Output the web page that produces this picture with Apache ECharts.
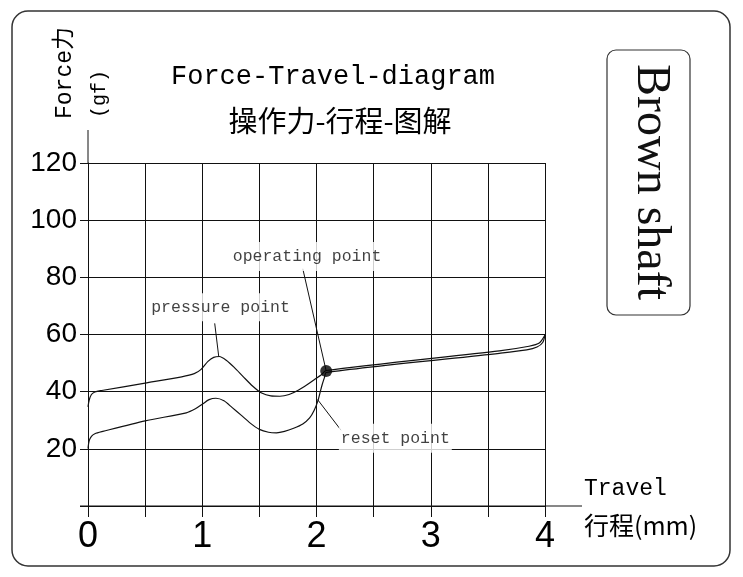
<!DOCTYPE html>
<html>
<head>
<meta charset="utf-8">
<script src="https://cdn.jsdelivr.net/npm/echarts@6/dist/echarts.min.js"></script>
<style>
html,body{margin:0;padding:0;background:#fff;}
#c{width:743px;height:577px;}
</style>
</head>
<body>
<div id="c"></div>
<script>
// ---- data ----
const titleEn = 'Force-Travel-diagram';
const titleZh = '操作力-行程-图解';
const shaftName = 'Brown shaft';
const yName1 = 'Force力';
const yName2 = '(gf)';
const xName1 = 'Travel';
const xName2 = '行程(mm)';

// pressing stroke (travel mm, force gf)
const pressTravel = [0, 0.01, 0.03, 0.06, 0.12, 0.5, 0.82, 0.93, 0.99, 1.05, 1.1, 1.15, 1.21, 1.28, 1.36, 1.44, 1.52, 1.6, 1.68, 1.76, 1.84, 1.92, 1.98, 2.04, 2.085, 3.6, 3.86, 3.95, 4.0];
const pressForce  = [34.7, 37, 39, 39.9, 40.4, 43.0, 45.2, 46.3, 47.8, 50.6, 52, 52.3, 51, 48.5, 45.2, 42, 39.5, 38.5, 38.4, 39, 40.5, 42.5, 44.2, 45.8, 47.4, 54.3, 55.9, 57.0, 59.8];

// return stroke
const returnTravel = [4.0, 3.98, 3.93, 3.84, 3.6, 2.085, 2.07, 2.05, 2.03, 2.01, 1.98, 1.94, 1.88, 1.8, 1.72, 1.65, 1.58, 1.5, 1.42, 1.34, 1.26, 1.19, 1.12, 1.06, 1.0, 0.94, 0.86, 0.5, 0.13, 0.06, 0.03, 0.01, 0];
const returnForce  = [59.8, 57.2, 55.6, 54.6, 53.4, 46.7, 45, 42.5, 39.5, 36.5, 33.5, 30.8, 28.7, 27.2, 26.1, 25.6, 25.8, 26.8, 29, 31.8, 34.5, 36.8, 37.7, 37.2, 35.6, 34, 32.6, 29.8, 26.1, 25.3, 24.4, 22.8, 20.1];

const operatingPoint = [2.085, 47.2];

const noteNames = ['pressure point', 'operating point', 'reset point'];
const noteTravel = [1.16, 1.917, 2.69];
const noteForce  = [69.5, 87.3, 23.7];
const leaderFromTravel = [1.109, 1.88, 2.215];
const leaderFromForce  = [63.9, 83.0, 26.5];
const leaderToTravel   = [1.144, 2.085, 2.01];
const leaderToForce    = [52.4, 47.2, 37.2];

const xTicks = [0, 1, 2, 3, 4];
const yTicks = [20, 40, 60, 80, 100, 120];

// ---- chart ----
const chart = echarts.init(document.getElementById('c'), null, {renderer: 'canvas'});
const zip = (a, b) => a.map((v, i) => [v, b[i]]);

const leaderSeries = noteNames.map((n, i) => ({
  type: 'line',
  data: [[leaderFromTravel[i], leaderFromForce[i]], [leaderToTravel[i], leaderToForce[i]]],
  symbol: 'none',
  lineStyle: {color: '#111', width: 1},
  silent: true,
  z: 3
}));

const labelPads = [[7, 2, 4, 2], [8, 2, 4, 2], [8, 2, 4, 2]];

const option = {
  animation: false,
  backgroundColor: '#fff',
  grid: {left: 88, right: 198, top: 163, bottom: 71, containLabel: false},
  xAxis: {
    type: 'value', min: 0, max: 4, interval: 0.5,
    axisLine: {show: true, lineStyle: {color: '#111', width: 1}},
    axisTick: {show: true, length: 11, lineStyle: {color: '#111', width: 1}},
    splitLine: {show: true, lineStyle: {color: '#111', width: 1}},
    axisLabel: {
      margin: 13, color: '#000', fontFamily: 'Liberation Sans', fontSize: 36,
      formatter: v => (xTicks.indexOf(v) >= 0 ? String(v) : '')
    }
  },
  yAxis: {
    type: 'value', min: 0, max: 120, interval: 20,
    axisLine: {show: true, lineStyle: {color: '#111', width: 1}},
    axisTick: {show: true, length: 8, lineStyle: {color: '#111', width: 1}},
    splitLine: {show: true, lineStyle: {color: '#111', width: 1}},
    axisLabel: {
      margin: 11, color: '#000', fontFamily: 'Liberation Sans', fontSize: 28,
      formatter: v => (yTicks.indexOf(v) >= 0 ? String(v) : '')
    }
  },
  series: [
    {
      type: 'line', name: 'press', data: zip(pressTravel, pressForce),
      smooth: 0.25, symbol: 'none',
      lineStyle: {color: '#111', width: 1.2}, z: 4
    },
    {
      type: 'line', name: 'return', data: zip(returnTravel, returnForce),
      smooth: 0.25, symbol: 'none',
      lineStyle: {color: '#111', width: 1.2}, z: 4
    },
    ...leaderSeries,
    {
      type: 'scatter', data: [operatingPoint], symbol: 'circle', symbolSize: 12,
      itemStyle: {color: '#000'}, z: 6
    },
    {
      type: 'scatter', symbolSize: 0, z: 7,
      data: noteNames.map((n, i) => ({
        name: n, value: [noteTravel[i], noteForce[i]],
        label: {padding: labelPads[i]}
      })),
      label: {
        show: true, position: 'inside', formatter: p => p.name,
        fontFamily: 'Liberation Mono', fontSize: 16.5, color: '#111',
        backgroundColor: '#fff'
      }
    }
  ],
  graphic: {
    elements: [
      {id: 'frame', type: 'rect', shape: {x: 12, y: 11, width: 718, height: 555, r: 16},
       style: {fill: 'none', stroke: '#333', lineWidth: 1.5}, z: 1},
      {id: 'shaftBox', type: 'rect', shape: {x: 607, y: 50, width: 83, height: 265, r: 9},
       style: {fill: '#fff', stroke: '#333', lineWidth: 1.2}, z: 1},
      {id: 'shaftText', type: 'text', x: 651, y: 182, rotation: -Math.PI / 2,
       style: {text: shaftName, font: '48px "Liberation Serif"', fill: '#111',
               textAlign: 'center', textVerticalAlign: 'middle'}, z: 2},
      {id: 't1', type: 'text', x: 333, y: 77,
       style: {text: titleEn, font: '27px "Liberation Mono"', fill: '#000',
               textAlign: 'center', textVerticalAlign: 'middle'}},
      {id: 't2', type: 'text', x: 340, y: 121,
       style: {text: titleZh, font: '29px "Noto Sans CJK SC"', fill: '#000',
               textAlign: 'center', textVerticalAlign: 'middle'}},
      {id: 'yn1', type: 'text', x: 65, y: 73, rotation: Math.PI / 2,
       style: {text: yName1, font: '23px "Liberation Mono", "Noto Sans CJK SC"', fill: '#000',
               textAlign: 'center', textVerticalAlign: 'middle'}},
      {id: 'yn2', type: 'text', x: 100, y: 94, rotation: Math.PI / 2,
       style: {text: yName2, font: '20px "Liberation Mono"', fill: '#000',
               textAlign: 'center', textVerticalAlign: 'middle'}},
      {id: 'xn1', type: 'text', x: 584, y: 489,
       style: {text: xName1, font: '23px "Liberation Mono"', fill: '#000',
               textAlign: 'left', textVerticalAlign: 'middle'}},
      {id: 'xn2', type: 'text', x: 584, y: 525,
       style: {text: xName2, font: '25px "Noto Sans CJK SC"', fill: '#000',
               textAlign: 'left', textVerticalAlign: 'middle'}}
    ]
  }
};
chart.setOption(option);

// extend the axis lines beyond the plotting area, as in the reference
const o = chart.convertToPixel({gridIndex: 0}, [0, 0]);
const yTop = chart.convertToPixel({gridIndex: 0}, [0, 120]);
const xEnd = chart.convertToPixel({gridIndex: 0}, [4, 0]);
chart.setOption({
  graphic: {
    elements: [
      {id: 'yExt', type: 'line', shape: {x1: o[0], y1: yTop[1], x2: o[0], y2: yTop[1] - 33},
       style: {stroke: '#111', lineWidth: 1}},
      {id: 'xExt', type: 'line', shape: {x1: o[0] - 8, y1: o[1], x2: xEnd[0] + 37, y2: o[1]},
       style: {stroke: '#111', lineWidth: 1}}
    ]
  }
});
</script>
</body>
</html>
